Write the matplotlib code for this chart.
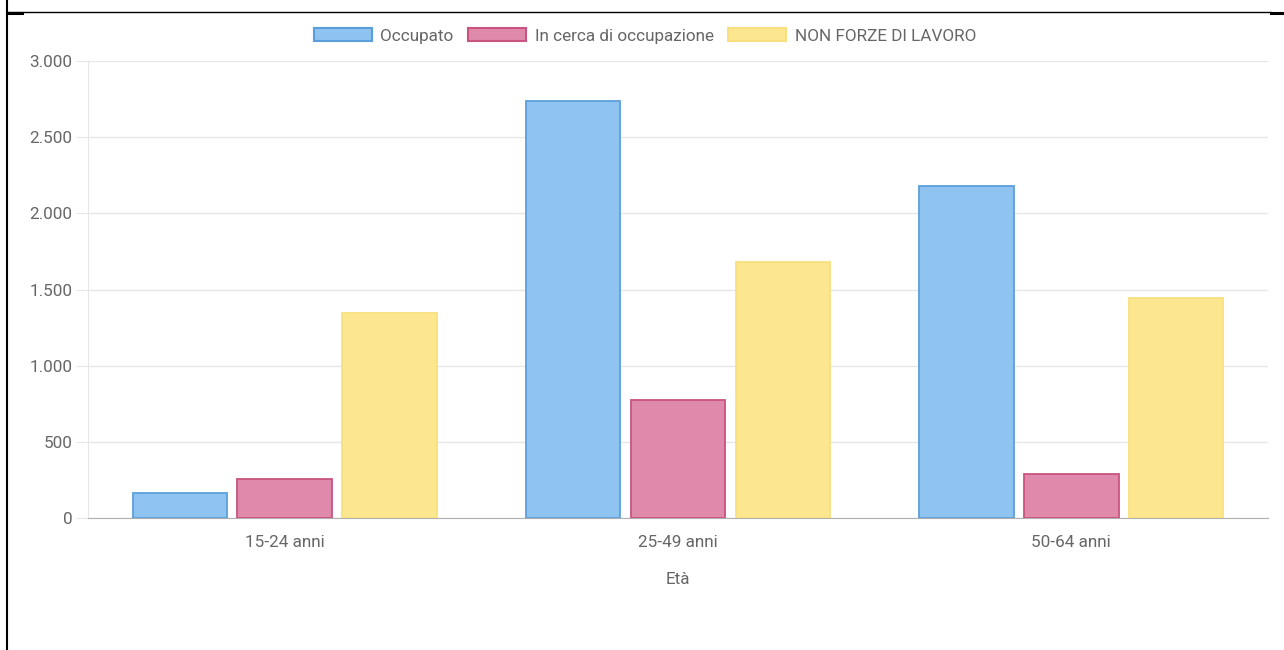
import numpy as np
import matplotlib
matplotlib.use("Agg")
import matplotlib.pyplot as plt
from matplotlib.lines import Line2D
from matplotlib.patches import Patch
from matplotlib.ticker import FuncFormatter

plt.rcParams["font.family"] = ["Roboto", "DejaVu Sans"]

categorie = ["15-24 anni", "25-49 anni", "50-64 anni"]
serie = ["Occupato", "In cerca di occupazione", "NON FORZE DI LAVORO"]
occupato = [162, 2740, 2180]
in_cerca = [254, 775, 289]
non_forze = [1344, 1683, 1442]

riempimento = ["#8fc3f0", "#e08aab", "#fce690"]
bordo = ["#5a9fdc", "#c9537f", "#f8e07e"]
grigio = "#666666"
fs = 12.3

W, H = 1284, 650
fig = plt.figure(figsize=(W / 100, H / 100), dpi=100)
fig.patch.set_facecolor("white")

# area del grafico in pixel
x0, x1, y_top, y_zero = 88, 1268, 61, 518
ax = fig.add_axes([x0 / W, 1 - y_zero / H, (x1 - x0) / W, (y_zero - y_top) / H])

x = np.arange(len(categorie))
slot = 0.8 / 3
larghezza = slot * 0.9
for i, valori in enumerate([occupato, in_cerca, non_forze]):
    ax.bar(x + (i - 1) * slot, valori, width=larghezza,
           color=riempimento[i], edgecolor=bordo[i], linewidth=1.3, zorder=3)

ax.set_xlim(-0.5, 2.5)
ax.set_ylim(0, 3000)
ax.set_yticks(np.arange(0, 3001, 500))
ax.yaxis.set_major_formatter(FuncFormatter(lambda v, p: f"{int(v):,}".replace(",", ".")))
ax.set_xticks(x)
ax.set_xticklabels(categorie)

ax.grid(axis="y", color="#e6e6e6", linewidth=1, zorder=0)
for lato in ["top", "right"]:
    ax.spines[lato].set_visible(False)
ax.spines["left"].set_color("#e6e6e6")
ax.spines["bottom"].set_color("#b0b0b0")
ax.tick_params(axis="y", length=9, color="#e6e6e6", pad=2, labelsize=fs, labelcolor=grigio)
ax.tick_params(axis="x", length=0, pad=12, labelsize=fs, labelcolor=grigio)
ax.set_xlabel("Età", fontsize=fs, color=grigio, labelpad=16)

maniglie = [Patch(facecolor=riempimento[i], edgecolor=bordo[i], linewidth=1.5) for i in range(3)]
fig.legend(maniglie, serie, loc="center", bbox_to_anchor=(645 / W, 1 - 36 / H),
           ncol=3, frameon=False, fontsize=fs, labelcolor=grigio,
           handlelength=3.4, handleheight=0.8, handletextpad=0.5, columnspacing=0.85)

# bordi neri della cella
fig.add_artist(Line2D([7 / W, 7 / W], [0, 1], color="black", linewidth=1.5))
fig.add_artist(Line2D([7 / W, 1271 / W], [1 - 12 / H, 1 - 12 / H], color="black", linewidth=1))
fig.add_artist(Line2D([1271 / W, 1], [1 - 13 / H, 1 - 13 / H], color="black", linewidth=2.2))
fig.add_artist(Line2D([7 / W, 22 / W], [1 - 13 / H, 1 - 13 / H], color="black", linewidth=2.2))

fig.savefig("out.png", dpi=100)
